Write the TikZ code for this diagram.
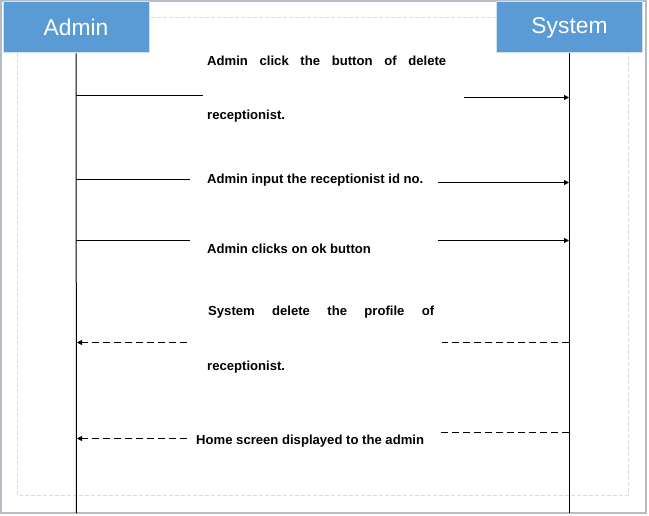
\documentclass[tikz,border=0pt]{standalone}
\usepackage{fontspec}
\setmainfont{Liberation Sans}
\usetikzlibrary{arrows.meta}
\definecolor{hdrblue}{HTML}{5B9BD5}
\definecolor{frame}{HTML}{B4BCC6}
\definecolor{inner}{HTML}{DDDDDD}
\begin{document}
\begin{tikzpicture}[x=1pt,y=-1pt,
  actor/.style={draw=hdrblue!30!white,line width=1pt,fill=hdrblue,text=white,minimum width=146pt,minimum height=51pt,inner sep=0pt,font=\fontsize{22.8}{26}\selectfont},
  life/.style={line width=1pt},
  msg/.style={line width=0.8pt},
  ret/.style={line width=0.8pt,dash pattern=on 7pt off 4pt},
  tip/.style={-{Triangle[length=5pt,width=5pt]}},
  lbl/.style={font=\bfseries\fontsize{13.1}{15}\selectfont,inner sep=0pt,anchor=west}]
\useasboundingbox (0,0) rectangle (649,516);
\draw[frame,line width=1.5pt] (1,1) rectangle (646,513);
\draw[inner,line width=0.6pt,dash pattern=on 4pt off 2pt] (17,17) rectangle (628,495);
\node[actor] (admin) at (76,27.5) {Admin};
\node[actor] (sys) at (569.5,27.5) {System};
\coordinate (aend) at (76.5,513);
\coordinate (send) at (569.5,513);
\draw[life] (admin.south) -- (aend);
\draw[life] (sys.south) -- (send);
% message 1
\node[lbl] (m1a) at (207,61) {\makebox[239pt][s]{Admin click the button of delete}};
\node[lbl] (m1b) at (207,116) {receptionist.};
\coordinate (m1l1) at (76,95.5); \coordinate (m1l2) at (203,95.5);
\coordinate (m1r1) at (464,97.5); \coordinate (m1r2) at (569,97.5);
\draw[msg] (m1l1) -- (m1l2);
\draw[msg,tip] (m1r1) -- (m1r2);
% message 2
\node[lbl] (m2) at (207,180) {Admin input the receptionist id no.};
\coordinate (m2l1) at (76,179.5); \coordinate (m2l2) at (190,179.5);
\coordinate (m2r1) at (438,182.5); \coordinate (m2r2) at (569,182.5);
\draw[msg] (m2l1) -- (m2l2);
\draw[msg,tip] (m2r1) -- (m2r2);
% message 3
\node[lbl] (m3) at (207,249) {Admin clicks on ok button};
\coordinate (m3l1) at (76,240.5); \coordinate (m3l2) at (190,240.5);
\coordinate (m3r1) at (438,240.5); \coordinate (m3r2) at (569,240.5);
\draw[msg] (m3l1) -- (m3l2);
\draw[msg,tip] (m3r1) -- (m3r2);
% message 4 (return)
\node[lbl] (m4a) at (208,312) {\makebox[226pt][s]{System delete the profile of}};
\node[lbl] (m4b) at (207,367) {receptionist.};
\coordinate (m4r1) at (569,342.5); \coordinate (m4r2) at (442,342.5);
\coordinate (m4l1) at (187,342.5); \coordinate (m4l2) at (77,342.5);
\draw[ret] (m4r1) -- (m4r2);
\draw[ret,tip] (m4l1) -- (m4l2);
% message 5 (return)
\node[lbl] (m5) at (196,441) {Home screen displayed to the admin};
\coordinate (m5r1) at (569,432.5); \coordinate (m5r2) at (439,432.5);
\coordinate (m5l1) at (187,438.5); \coordinate (m5l2) at (77,438.5);
\draw[ret] (m5r1) -- (m5r2);
\draw[ret,tip] (m5l1) -- (m5l2);
\end{tikzpicture}
\end{document}
